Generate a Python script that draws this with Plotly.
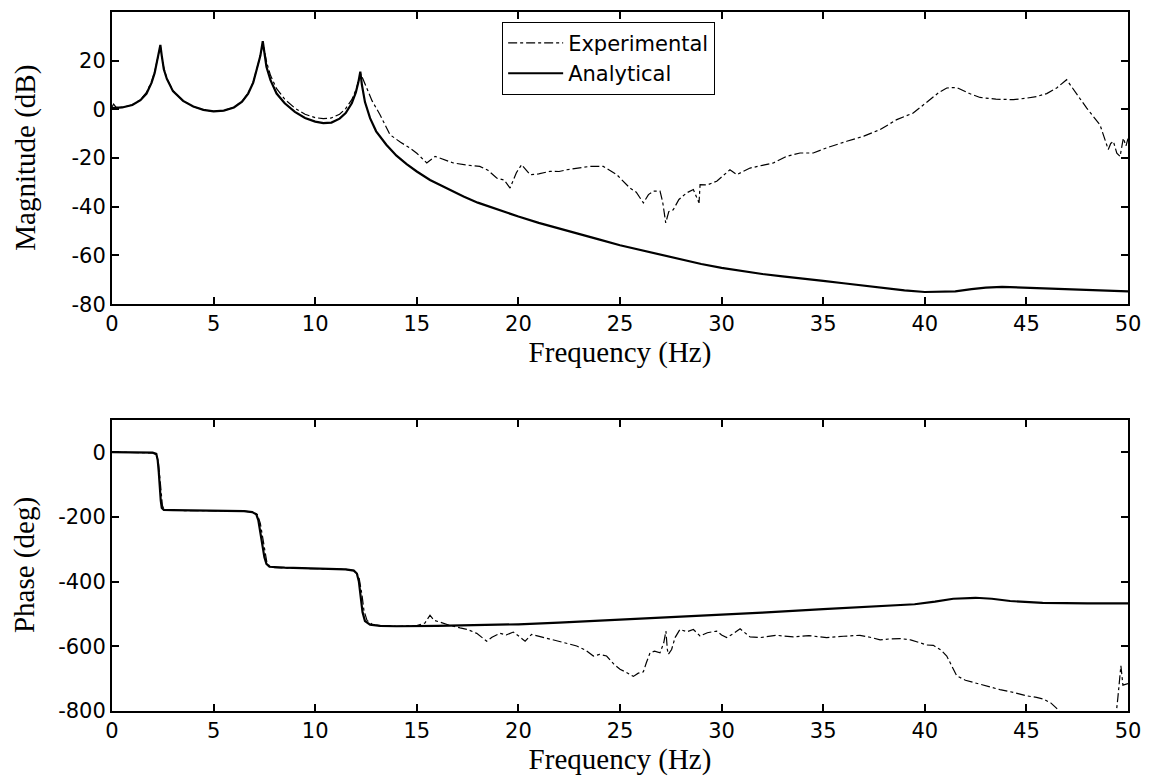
import plotly.graph_objects as go

# ---------------- data ----------------
mag_ana_f = [0, 0.5, 1.0, 1.4, 1.7, 1.95, 2.1, 2.2, 2.3, 2.38, 2.45, 2.55, 2.7, 3.0, 3.5, 4.0, 4.5, 5.0, 5.5, 6.0,
             6.4, 6.7, 6.95, 7.15, 7.3, 7.42, 7.5, 7.6, 7.8, 8.1, 8.5, 9.0, 9.5, 10.0, 10.4, 10.8, 11.2, 11.5, 11.8,
             12.0, 12.12, 12.22, 12.3, 12.45, 12.7, 13.0, 13.5, 14.0, 14.5, 15.0, 15.65, 16.5, 17.3, 18.0,
             19.0, 20.0, 21.0, 22.0, 23.0, 24.0, 25.0, 26.0, 27.0, 28.0, 29.0, 30.0, 31.0, 32.0, 33.0, 34.0, 35.0,
             36.0, 37.0, 38.0, 39.0, 40.0, 41.0, 41.5, 42.3, 43.0, 43.8, 45.0, 46.0, 47.0, 48.0, 49.0, 50.0]
mag_ana_db = [0.5, 0.8, 1.8, 3.8, 6.5, 11, 15, 19, 23, 26.5, 22, 16.5, 12.5, 7.5, 3.5, 1.2, -0.2, -0.8, -0.5, 0.8,
              3.2, 6.5, 11, 17, 22, 28, 23, 17.5, 12, 6.5, 2.5, -1.0, -3.5, -5.0, -5.6, -5.4, -3.8, -1.5, 2.5,
              7, 11, 15.5, 10, 3, -3.6, -9, -14.5, -19, -22.5, -25.5, -29, -32.5, -35.8, -38.3,
              -41.3, -44, -46.6, -49, -51.3, -53.5, -55.8, -57.8, -59.7, -61.6, -63.5, -65.1, -66.4, -67.6, -68.6,
              -69.4, -70.4, -71.4, -72.4, -73.4, -74.3, -75, -75, -74.7, -73.8, -73.2, -72.9, -73.2, -73.6, -73.9,
              -74.2, -74.5, -74.7]

mag_exp_f = [0, 0.08, 0.2, 0.5, 1.0, 1.4, 1.7, 1.95, 2.1, 2.2, 2.3, 2.38, 2.45, 2.55, 2.7, 3.0, 3.5, 4.0, 4.5, 5.0,
             5.5, 6.0, 6.4, 6.7, 6.95, 7.15, 7.3, 7.43, 7.52, 7.62, 7.8, 8.1, 8.5, 9.0, 9.5, 10.0, 10.4, 10.8, 11.2,
             11.5, 11.8, 12.0, 12.15, 12.25, 12.35, 12.53, 12.8, 13.19, 13.68, 14.2, 14.67, 15.0, 15.49, 15.9, 16.3,
             16.8, 17.4, 18.1, 18.5, 18.93, 19.3, 19.59, 19.9, 20.16, 20.57, 21.0, 21.56, 22.0, 22.38, 23.0, 23.52,
             24.18, 24.84, 25.49, 25.8, 26.15, 26.4, 26.64, 26.97, 27.1, 27.25, 27.4, 27.62, 27.9, 28.28, 28.61,
             28.89, 28.94, 29.3, 29.76, 30.1, 30.41, 30.74, 31.4, 32.0, 32.55, 33.2, 33.86, 34.51, 35.2, 36.16, 37.0,
             37.8, 38.62, 39.43, 40.26, 40.7, 41.08, 41.57, 42.2, 42.72, 43.5, 44.36, 45.0, 45.51, 46.0, 46.49,
             46.98, 47.4, 47.97, 48.62, 49.03, 49.15, 49.28, 49.45, 49.61, 49.77, 49.9, 50.0]
mag_exp_db = [1.0, 2.2, 0.8, 0.8, 1.9, 4.0, 7, 11.5, 15.5, 19.5, 23.5, 26, 22, 17, 12.8, 7.7, 3.5, 1.2, -0.2, -0.8,
              -0.5, 0.9, 3.3, 6.6, 11.2, 17, 22, 27, 23.5, 19, 14, 8.5, 4.2, 0.5, -2.0, -3.4, -3.8, -3.5, -2,
              0.3, 4, 8, 12, 14.5, 12.5, 8.8, 3.5, -2.2, -10.4, -13.5, -15.9, -18, -22, -19.3, -20.5,
              -22, -22.8, -23.4, -25, -28.2, -29, -32.3, -26, -22.7, -26.8, -26.5, -25.4, -25.5, -24.8, -24.2, -23.4,
              -23.4, -26.8, -32.3, -34, -38.4, -35, -33.6, -33.6, -38, -46.6, -42, -41.2, -37, -34.3, -32.9,
              -38.4, -30.9, -31, -29.5, -27, -24.8, -26.8, -24.1, -23, -22, -19.3, -17.9, -17.9, -15.7, -13.1, -11,
              -8.3, -4.2, -1.5, 4.0, 7, 8.8, 9.0, 6.5, 4.9, 4.2, 4.0, 4.6, 5.3, 6.5, 8.8,
              12.2, 7, 0.5, -6.3, -16.5, -14, -13.1, -18, -19.3, -11.8, -15, -12]

ph_ana_f = [0, 1.0, 2.0, 2.18, 2.25, 2.3, 2.35, 2.4, 2.45, 2.55, 3.0, 5.0, 6.5, 6.9, 7.1, 7.2, 7.3, 7.4, 7.5, 7.6,
            7.75, 8.5, 10, 11.5, 11.9, 12.05, 12.15, 12.25, 12.33, 12.45, 12.7, 13.2, 14, 16, 18, 20, 22, 25, 28,
            30, 32, 35, 38, 39.5, 40.5, 41.4, 42.5, 43.3, 44.2, 45.8, 48, 50]
ph_ana_deg = [0, -0.5, -1.5, -5, -25, -60, -110, -150, -172, -178, -179, -180, -182, -185, -192, -210, -245, -290,
              -325, -345, -354, -357, -359, -362, -366, -375, -400, -450, -495, -522, -533, -537, -538, -537, -535,
              -532, -527, -518, -508, -502, -496, -485, -476, -470, -462, -453, -450, -453, -460, -466, -467, -467]

ph_exp_f = [0, 1.0, 2.0, 2.2, 2.28, 2.35, 2.42, 2.48, 2.55, 2.7, 3.0, 5.0, 6.5, 6.9, 7.15, 7.3, 7.42, 7.52, 7.62,
            7.75, 8.0, 10, 11.5, 11.95, 12.15, 12.3, 12.4, 12.55, 12.8, 13.2, 14, 15.0, 15.4, 15.65, 15.85, 16.14,
            16.6, 17.13, 17.5, 17.95, 18.2, 18.44, 18.7, 19.09, 19.4, 19.75, 20.05, 20.33, 20.65, 21.1, 21.56, 22.2,
            22.87, 23.3, 23.69, 24.0, 24.34, 24.7, 25.0, 25.3, 25.66, 25.9, 26.15, 26.3, 26.48, 26.7, 26.97, 27.15,
            27.26, 27.33, 27.38, 27.54, 27.71, 27.95, 28.3, 28.61, 28.94, 29.3, 29.76, 30.0, 30.25, 30.6, 30.91,
            31.4, 31.9, 32.71, 33.53, 34.3, 35.17, 36.0, 36.81, 37.3, 37.8, 38.3, 38.78, 39.3, 39.76, 40.1, 40.42,
            40.8, 41.08, 41.35, 41.57, 42.0, 42.55, 43.1, 43.7, 44.4, 45.01, 45.5, 45.83, 46.2, 46.49, 46.8, 47.5,
            48.5, 49.38, 49.5, 49.65, 49.75, 50.0]
ph_exp_deg = [0, -0.5, -2, -8, -30, -75, -130, -165, -175, -179, -180, -181, -182, -185, -192, -220, -265, -310,
              -340, -352, -357, -360, -362, -366, -385, -440, -490, -520, -532, -537, -538, -536, -528, -504, -520,
              -525, -535, -543, -548, -560, -572, -584, -572, -560, -565, -556, -570, -584, -563, -570, -578, -588,
              -599, -612, -630, -625, -630, -655, -671, -680, -693, -683, -679, -650, -620, -615, -620, -590,
              -553, -610, -625, -610, -573, -548, -555, -548, -568, -558, -553, -565, -573, -560, -546,
              -571, -573, -566, -571, -567, -573, -569, -566, -572, -580, -577, -576, -580, -589, -596, -597,
              -612, -630, -665, -691, -705, -714, -724, -734, -743, -753, -758, -763, -775, -792, -815, -830,
              -830, -830, -760, -660, -720, -715]

x_ticks = [0, 5, 10, 15, 20, 25, 30, 35, 40, 45, 50]
x_labels = ["0", "5", "10", "15", "20", "25", "30", "35", "40", "45", "50"]
mag_ticks = [20, 0, -20, -40, -60, -80]
mag_labels = ["20", "0", "-20", "-40", "-60", "-80"]
ph_ticks = [0, -200, -400, -600, -800]
ph_labels = ["0", "-200", "-400", "-600", "-800"]

# ---------------- figure ----------------
tick_font = dict(family="DejaVu Sans, Arial, sans-serif", size=21, color="black")
title_font = dict(family="Liberation Serif, Times New Roman, serif", size=29, color="black")

fig = go.Figure()
fig.add_trace(go.Scatter(x=mag_exp_f, y=mag_exp_db, mode="lines", name="Experimental",
                         line=dict(color="black", width=1.2, dash="dashdot"), xaxis="x", yaxis="y"))
fig.add_trace(go.Scatter(x=mag_ana_f, y=mag_ana_db, mode="lines", name="Analytical",
                         line=dict(color="black", width=2.2), xaxis="x", yaxis="y"))
fig.add_trace(go.Scatter(x=ph_exp_f, y=ph_exp_deg, mode="lines", name="Experimental", showlegend=False,
                         line=dict(color="black", width=1.2, dash="dashdot"), xaxis="x2", yaxis="y2"))
fig.add_trace(go.Scatter(x=ph_ana_f, y=ph_ana_deg, mode="lines", name="Analytical", showlegend=False,
                         line=dict(color="black", width=2.2), xaxis="x2", yaxis="y2"))

ax_common = dict(showline=True, linecolor="black", linewidth=2, mirror="ticks", ticks="inside",
                 ticklen=7, tickwidth=1.5, tickcolor="black", showgrid=False, zeroline=False,
                 tickfont=tick_font, tickmode="array")

top_dom = [0.582, 1]
bot_dom = [0, 0.4165]

fig.update_layout(
    width=1151, height=780,
    margin=dict(l=112, r=23, t=10, b=69),
    paper_bgcolor="white", plot_bgcolor="white",
    showlegend=True,
    legend=dict(x=0.384, y=0.986, xanchor="left", yanchor="top",
                bordercolor="black", borderwidth=1, bgcolor="white",
                font=dict(family="DejaVu Sans, Arial, sans-serif", size=21, color="black"),
                tracegroupgap=0, itemwidth=55),
    xaxis=dict(domain=[0, 1], anchor="y", range=[0, 50], tickvals=x_ticks, ticktext=x_labels,
               title=dict(text="Frequency (Hz)", font=title_font, standoff=2), **ax_common),
    yaxis=dict(domain=top_dom, anchor="x", range=[-80, 40], tickvals=mag_ticks, ticktext=mag_labels,
               **ax_common),
    xaxis2=dict(domain=[0, 1], anchor="y2", range=[0, 50], tickvals=x_ticks, ticktext=x_labels,
                title=dict(text="Frequency (Hz)", font=title_font, standoff=6), **ax_common),
    yaxis2=dict(domain=bot_dom, anchor="x2", range=[-800, 100], tickvals=ph_ticks, ticktext=ph_labels,
                **ax_common),
    annotations=[
        dict(text="Magnitude (dB)", xref="paper", yref="paper", x=-0.086, y=(top_dom[0] + top_dom[1]) / 2,
             textangle=-90, showarrow=False, font=title_font, xanchor="center", yanchor="middle"),
        dict(text="Phase (deg)", xref="paper", yref="paper", x=-0.086, y=(bot_dom[0] + bot_dom[1]) / 2,
             textangle=-90, showarrow=False, font=title_font, xanchor="center", yanchor="middle"),
    ],
)

fig.write_html("out.html")
